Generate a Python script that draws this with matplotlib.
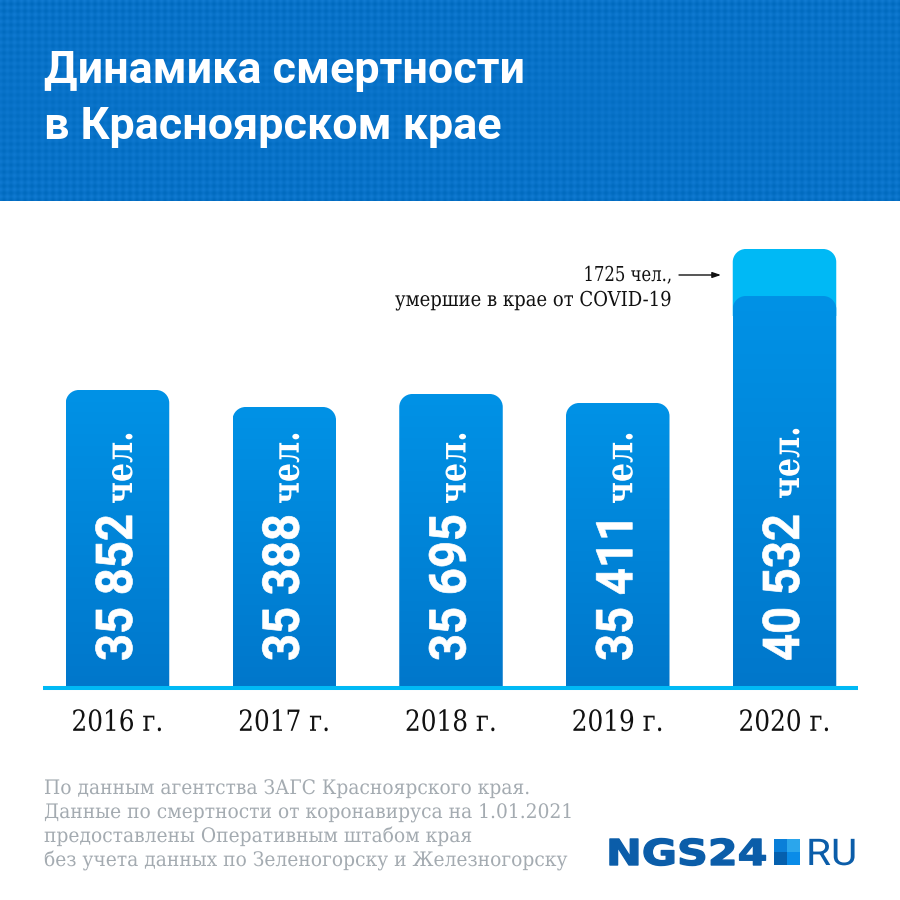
import numpy as np
import matplotlib
matplotlib.use("Agg")
import matplotlib.pyplot as plt
from matplotlib.path import Path
from matplotlib.patches import PathPatch, Rectangle
from matplotlib.patheffects import AbstractPathEffect
from matplotlib.transforms import Affine2D

# ---- data
years = ["2016 г.", "2017 г.", "2018 г.", "2019 г.", "2020 г."]
value_labels = ["35 852", "35 388", "35 695", "35 411", "40 532"]
drawn_heights = [298, 281, 294, 285, 392]      # bar heights as drawn in the original
covid_heights = [0, 0, 0, 0, 47]               # extra top segment, 2020 only
title_lines = ["Динамика смертности", "в Красноярском крае"]
note_lines = ["По данным агентства ЗАГС Красноярского края.",
              "Данные по смертности от коронавируса на 1.01.2021",
              "предоставлены Оперативным штабом края",
              "без учета данных по Зеленогорску и Железногорску"]
covid_lines = ["1725 чел.,", "умершие в крае от COVID-19"]

SLAB = "DejaVu Serif"
SANS = "Roboto"
BLUE_TOP = np.array([0x00, 0x92, 0xE6]) / 255
BLUE_BOT = np.array([0x00, 0x77, 0xCB]) / 255
CYAN = "#00B9F5"


class Stretch(AbstractPathEffect):
    """Condense a text along its own direction, keeping its anchor."""
    def __init__(self, s, anchor=0.0, stroke=0.0):
        super().__init__()
        self.s, self.anchor, self.stroke = s, anchor, stroke

    def draw_path(self, renderer, gc, tpath, affine, rgbFace=None):
        w = tpath.get_extents().x1
        local = Affine2D().scale(self.s, 1).translate((1 - self.s) * self.anchor * w, 0)
        if self.stroke and rgbFace is not None:
            gc.set_linewidth(self.stroke)
            gc.set_foreground(rgbFace)
        renderer.draw_path(gc, tpath, local + affine, rgbFace)


fig = plt.figure(figsize=(9, 9), dpi=100, facecolor="white")

# ---- header band with its dot texture
hdr = fig.add_axes([0, 1 - 201 / 900, 1, 201 / 900], zorder=0)
hdr.set_axis_off()
yy, xx = np.mgrid[0:201, 0:900]
wave = np.cos(2 * np.pi * (xx + yy) / 14) * np.cos(2 * np.pi * (xx - yy) / 14)
fade = 0.55 + 0.45 * np.abs(yy - 100) / 100
base = np.array([0x08, 0x72, 0xC8])
tex = base[None, None, :] + (wave * fade * 8)[..., None] * np.array([1, 1, 1.2])
hdr.imshow(np.clip(tex, 0, 255).astype(np.uint8), aspect="auto", interpolation="bilinear")

# ---- chart axes: x in category steps, y in drawn units
PX_STEP = 166.75
ax = fig.add_axes([43 / 900, 1 - 688 / 900, 815 / 900, (688 - 201) / 900], zorder=1)
ax.patch.set_alpha(0)
xs = np.arange(len(years))
bar_w = 103.5 / PX_STEP
rx, ry = 13 / PX_STEP, 13.0


def top_rounded(x, w, y0, y1):
    l, r = x - w / 2, x + w / 2
    k = 0.45
    verts = [(l, y0), (l, y1 - ry), (l, y1 - ry * k), (l + rx * k, y1), (l + rx, y1),
             (r - rx, y1), (r - rx * k, y1), (r, y1 - ry * k), (r, y1 - ry), (r, y0), (l, y0)]
    codes = [Path.MOVETO, Path.LINETO, Path.CURVE4, Path.CURVE4, Path.CURVE4,
             Path.LINETO, Path.CURVE4, Path.CURVE4, Path.CURVE4, Path.LINETO, Path.CLOSEPOLY]
    return Path(verts, codes)


grad = np.linspace(0, 1, 256)[:, None, None] * (BLUE_BOT - BLUE_TOP)[None, None, :] + BLUE_TOP[None, None, :]
for x, h, c in zip(xs, drawn_heights, covid_heights):
    if c:
        ax.add_patch(PathPatch(top_rounded(x, bar_w, h - 20, h + c), fc=CYAN, ec="none", zorder=2))
    p = PathPatch(top_rounded(x, bar_w, 0, h), fc="none", ec="none", zorder=3)
    ax.add_patch(p)
    im = ax.imshow(grad, extent=(x - bar_w / 2, x + bar_w / 2, 0, h), aspect="auto", zorder=3)
    im.set_clip_path(p)

ax.set_xlim((43 - 117.5) / PX_STEP, (858 - 117.5) / PX_STEP)
ax.set_ylim(0, 487)
for s in ("top", "left", "right"):
    ax.spines[s].set_visible(False)
ax.spines["bottom"].set_color(CYAN)
ax.spines["bottom"].set_linewidth(2.9)
ax.spines["bottom"].set_capstyle("butt")
ax.spines["bottom"].set_zorder(5)
ax.set_yticks([])
ax.set_xticks(xs, years)
ax.tick_params(axis="x", length=0, pad=15)
for lab in ax.get_xticklabels():
    lab.set_fontfamily(SLAB)
    lab.set_fontsize(21)
    lab.set_color("#111111")
    lab.set_path_effects([Stretch(0.85, 0.5)])

# value labels inside the bars
for x, v in zip(xs, value_labels):
    ax.annotate(v, (x, 0), xytext=(14.5 * 0.72, 27 * 0.72), textcoords="offset points",
                rotation=90, rotation_mode="anchor", ha="left", va="baseline",
                family=SANS, weight="bold", fontsize=36.5, color="white", zorder=6,
                path_effects=[Stretch(0.93, 0, 0.5)])
    start = 184 if v != "40 532" else 189
    ax.annotate("чел.", (x, 0), xytext=(14.5 * 0.72, start * 0.72), textcoords="offset points",
                rotation=90, rotation_mode="anchor", ha="left", va="baseline",
                family=SLAB, weight="bold", fontsize=27, color="white", zorder=6,
                path_effects=[Stretch(0.8)])

# ---- overlay in pixel coordinates for title, notes and logo
ov = fig.add_axes([0, 0, 1, 1], zorder=3)
ov.set_xlim(0, 900)
ov.set_ylim(900, 0)
ov.set_axis_off()
ov.patch.set_alpha(0)

for y, t in zip((83, 139), title_lines):
    ov.text(44, y, t, family=SANS, weight="bold", fontsize=32.3, color="white", ha="left", va="baseline")

for y, t in zip((794, 818, 842, 866), note_lines):
    ov.text(44, y, t, family=SLAB, fontsize=14.4, color="#A4ABB1", ha="left", va="baseline",
            path_effects=[Stretch(0.934)])

ov.text(672, 281, covid_lines[0], family=SLAB, fontsize=14.8, color="#111111", ha="right", va="baseline",
        path_effects=[Stretch(0.80, 1)])
ov.text(671, 306, covid_lines[1], family=SLAB, fontsize=14.8, color="#111111", ha="right", va="baseline",
        path_effects=[Stretch(0.877, 1)])
ov.annotate("", xy=(721, 275), xytext=(679, 275),
            arrowprops=dict(arrowstyle="-|>,head_length=0.5,head_width=0.17", color="#111111", lw=1.0,
                            shrinkA=0, shrinkB=0))

LOGO = "#0B5DA9"
ov.text(606, 865, "NGS24", family="DejaVu Sans", weight="bold", fontsize=25.7, color=LOGO,
        ha="left", va="baseline", path_effects=[Stretch(1.2, 0, 1.0)])
for (x0, y0, col) in [(774, 839, "#0A7FD8"), (787, 839, "#2BA6EC"), (774, 852, "#0560AE"), (787, 852, "#0A8CE8")]:
    ov.add_patch(Rectangle((x0, y0), 13, 13, fc=col, ec="none"))
ov.text(806, 865, "RU", family=SANS, fontsize=26.5, color=LOGO, ha="left", va="baseline",
        path_effects=[Stretch(1.1)])

fig.savefig("out.png", dpi=100)
